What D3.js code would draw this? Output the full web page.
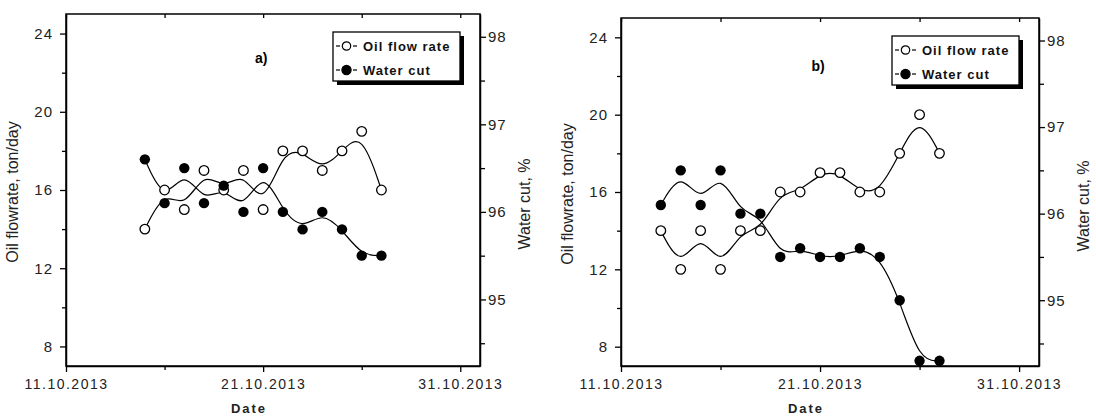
<!DOCTYPE html>
<html>
<head>
<meta charset="utf-8">
<script src="https://cdn.jsdelivr.net/npm/d3@7"></script>
<style>
  body { margin: 0; background: #fff; }
  svg { display: block; font-family: "Liberation Sans", Arial, sans-serif; }
</style>
</head>
<body>
<script>
// Data
const datesA = ['15.10.2013', '16.10.2013', '17.10.2013', '18.10.2013', '19.10.2013', '20.10.2013', '21.10.2013',
  '22.10.2013', '23.10.2013', '24.10.2013', '25.10.2013', '26.10.2013', '27.10.2013'];
const oilA = [14, 16, 15, 17, 16, 17, 15, 18, 18, 17, 18, 19, 16];
const waterA = [96.6, 96.1, 96.5, 96.1, 96.3, 96.0, 96.5, 96.0, 95.8, 96.0, 95.8, 95.5, 95.5];

const datesB = ['13.10.2013', '14.10.2013', '15.10.2013', '16.10.2013', '17.10.2013', '18.10.2013', '19.10.2013',
  '20.10.2013', '21.10.2013', '22.10.2013', '23.10.2013', '24.10.2013', '25.10.2013', '26.10.2013', '27.10.2013'];
const oilB = [14, 12, 14, 12, 14, 14, 16, 16, 17, 17, 16, 16, 18, 20, 18];
const waterB = [96.1, 96.5, 96.1, 96.5, 96.0, 96.0, 95.5, 95.6, 95.5, 95.5, 95.6, 95.5, 95.0, 94.3, 94.3];

const xTickDates = ['11.10.2013', '21.10.2013', '31.10.2013'];
const xMinorDates = ['16.10.2013', '26.10.2013'];
const xDomain = ['11.10.2013', '01.11.2013'];
const oilTicks = [8, 12, 16, 20, 24];
const oilMinor = [10, 14, 18, 22];
const oilDomain = [7, 25];
const waterTicks = [95, 96, 97, 98];
const waterMinor = [94.5, 95.5, 96.5, 97.5];
const waterDomain = [94.24, 98.26];

const seriesNames = ['Oil flow rate', 'Water cut'];

const parse = d3.timeParse('%d.%m.%Y');
const fmt = d3.timeFormat('%d.%m.%Y');

const svg = d3.select('body')
  .append('svg')
  .attr('width', 1096)
  .attr('height', 416);

const panels = [
  { label: 'a)', dates: datesA, oil: oilA, water: waterA, left: 66, right: 480, top: 14, bottom: 366, labelDy: 49 },
  { label: 'b)', dates: datesB, oil: oilB, water: waterB, left: 621, right: 1039, top: 18, bottom: 366, labelDy: 53 }
];

function styleAxis(g, size, spacing) {
  g.select('.domain').attr('stroke', '#000').attr('stroke-width', 1.5);
  g.selectAll('.tick line').attr('stroke', '#000').attr('stroke-width', 1.3);
  g.selectAll('.tick text')
    .attr('fill', '#222')
    .style('font-size', size + 'px')
    .style('letter-spacing', spacing + 'px');
}

function minorTicks(a) {
  a.select('.domain').remove();
  a.selectAll('.tick line').attr('stroke', '#000').attr('stroke-width', 1.3);
}

function drawPanel(p) {
  const x = d3.scaleTime()
    .domain(xDomain.map(parse))
    .range([p.left, p.right]);
  const yOil = d3.scaleLinear().domain(oilDomain).range([p.bottom, p.top]);
  const yWater = d3.scaleLinear().domain(waterDomain).range([p.bottom, p.top]);

  const g = svg.append('g');

  // Axes
  g.append('g')
    .attr('transform', `translate(0, ${p.bottom})`)
    .call(d3.axisBottom(x).tickValues(xMinorDates.map(parse)).tickFormat('').tickSize(4).tickSizeOuter(0))
    .call(minorTicks);

  g.append('g')
    .attr('transform', `translate(0, ${p.bottom})`)
    .call(d3.axisBottom(x).tickValues(xTickDates.map(parse)).tickFormat(fmt).tickSize(6).tickPadding(7).tickSizeOuter(0))
    .call(a => styleAxis(a, 14, 1.5));

  // top mirror ticks
  g.append('g')
    .attr('transform', `translate(0, ${p.top})`)
    .call(d3.axisBottom(x).tickValues(xTickDates.concat(xMinorDates).map(parse)).tickFormat('').tickSize(4).tickSizeOuter(0))
    .call(minorTicks);

  g.append('g')
    .attr('transform', `translate(${p.left}, 0)`)
    .call(d3.axisLeft(yOil).tickValues(oilMinor).tickFormat('').tickSize(4).tickSizeOuter(0))
    .call(minorTicks);

  g.append('g')
    .attr('transform', `translate(${p.left}, 0)`)
    .call(d3.axisLeft(yOil).tickValues(oilTicks).tickFormat(d3.format('d')).tickSize(6).tickPadding(7).tickSizeOuter(0))
    .call(a => styleAxis(a, 15, 1));

  g.append('g')
    .attr('transform', `translate(${p.right}, 0)`)
    .call(d3.axisRight(yWater).tickValues(waterMinor).tickFormat('').tickSize(5).tickSizeOuter(0))
    .call(minorTicks);

  g.append('g')
    .attr('transform', `translate(${p.right}, 0)`)
    .call(d3.axisRight(yWater).tickValues(waterTicks).tickFormat(d3.format('d')).tickSize(6).tickPadding(2).tickSizeOuter(0))
    .call(a => styleAxis(a, 15, 1));

  // Frame
  g.append('rect')
    .attr('x', p.left)
    .attr('y', p.top)
    .attr('width', p.right - p.left)
    .attr('height', p.bottom - p.top)
    .attr('fill', 'none')
    .attr('stroke', '#000')
    .attr('stroke-width', 1.5);

  // Axis titles
  const midY = (p.top + p.bottom) / 2;
  g.append('text')
    .attr('transform', `translate(${p.left - 48}, ${midY + 2}) rotate(-90)`)
    .attr('text-anchor', 'middle')
    .attr('fill', '#222')
    .style('font-size', '16px')
    .text('Oil flowrate, ton/day');

  g.append('text')
    .attr('transform', `translate(${p.right + 50}, ${midY + 14}) rotate(-90)`)
    .attr('text-anchor', 'middle')
    .attr('fill', '#222')
    .style('font-size', '16px')
    .text('Water cut, %');

  g.append('text')
    .attr('x', (p.left + p.right) / 2 - 24)
    .attr('y', 413)
    .attr('text-anchor', 'middle')
    .attr('fill', '#222')
    .style('font-size', '13px')
    .style('font-weight', 'bold')
    .style('letter-spacing', '2px')
    .text('Date');

  g.append('text')
    .attr('x', x(parse('21.10.2013')) - 2)
    .attr('y', p.top + p.labelDy)
    .attr('text-anchor', 'middle')
    .style('font-size', '14px')
    .style('font-weight', 'bold')
    .text(p.label);

  // Series
  const oilData = p.dates.map((d, i) => ({ date: parse(d), v: p.oil[i] }));
  const waterData = p.dates.map((d, i) => ({ date: parse(d), v: p.water[i] }));

  const lineOil = d3.line().x(d => x(d.date)).y(d => yOil(d.v)).curve(d3.curveBasis);
  const lineWater = d3.line().x(d => x(d.date)).y(d => yWater(d.v)).curve(d3.curveBasis);

  g.append('path')
    .datum(oilData)
    .attr('d', lineOil)
    .attr('fill', 'none')
    .attr('stroke', '#000')
    .attr('stroke-width', 1.2);

  g.append('path')
    .datum(waterData)
    .attr('d', lineWater)
    .attr('fill', 'none')
    .attr('stroke', '#000')
    .attr('stroke-width', 1.2);

  g.selectAll('.oil')
    .data(oilData)
    .enter()
    .append('circle')
    .attr('class', 'oil')
    .attr('cx', d => x(d.date))
    .attr('cy', d => yOil(d.v))
    .attr('r', 4.8)
    .attr('fill', '#fff')
    .attr('stroke', '#000')
    .attr('stroke-width', 1.3);

  g.selectAll('.water')
    .data(waterData)
    .enter()
    .append('circle')
    .attr('class', 'water')
    .attr('cx', d => x(d.date))
    .attr('cy', d => yWater(d.v))
    .attr('r', 5.2)
    .attr('fill', '#000');

  // Legend
  const lw = 127, lh = 49;
  const lg = g.append('g')
    .attr('transform', `translate(${p.right - 20 - lw}, ${p.top + 18})`);

  lg.append('rect')
    .attr('x', 4).attr('y', 4)
    .attr('width', lw).attr('height', lh)
    .attr('fill', '#000');
  lg.append('rect')
    .attr('width', lw).attr('height', lh)
    .attr('fill', '#fff')
    .attr('stroke', '#000')
    .attr('stroke-width', 1.3);

  seriesNames.forEach((name, i) => {
    const ry = 14 + i * 24;
    [[3, 7], [20, 24]].forEach(s => {
      lg.append('line')
        .attr('x1', s[0]).attr('x2', s[1])
        .attr('y1', ry).attr('y2', ry)
        .attr('stroke', '#000')
        .attr('stroke-width', 1.2);
    });
    lg.append('circle')
      .attr('cx', 13.5).attr('cy', ry)
      .attr('r', i === 0 ? 4.2 : 4.6)
      .attr('fill', i === 0 ? '#fff' : '#000')
      .attr('stroke', '#000')
      .attr('stroke-width', 1.2);
    lg.append('text')
      .attr('x', 30)
      .attr('y', ry + 5)
      .attr('fill', '#111')
      .style('font-size', '13px')
      .style('font-weight', 'bold')
      .style('letter-spacing', '1px')
      .text(name);
  });
}

panels.forEach(drawPanel);
</script>
</body>
</html>
